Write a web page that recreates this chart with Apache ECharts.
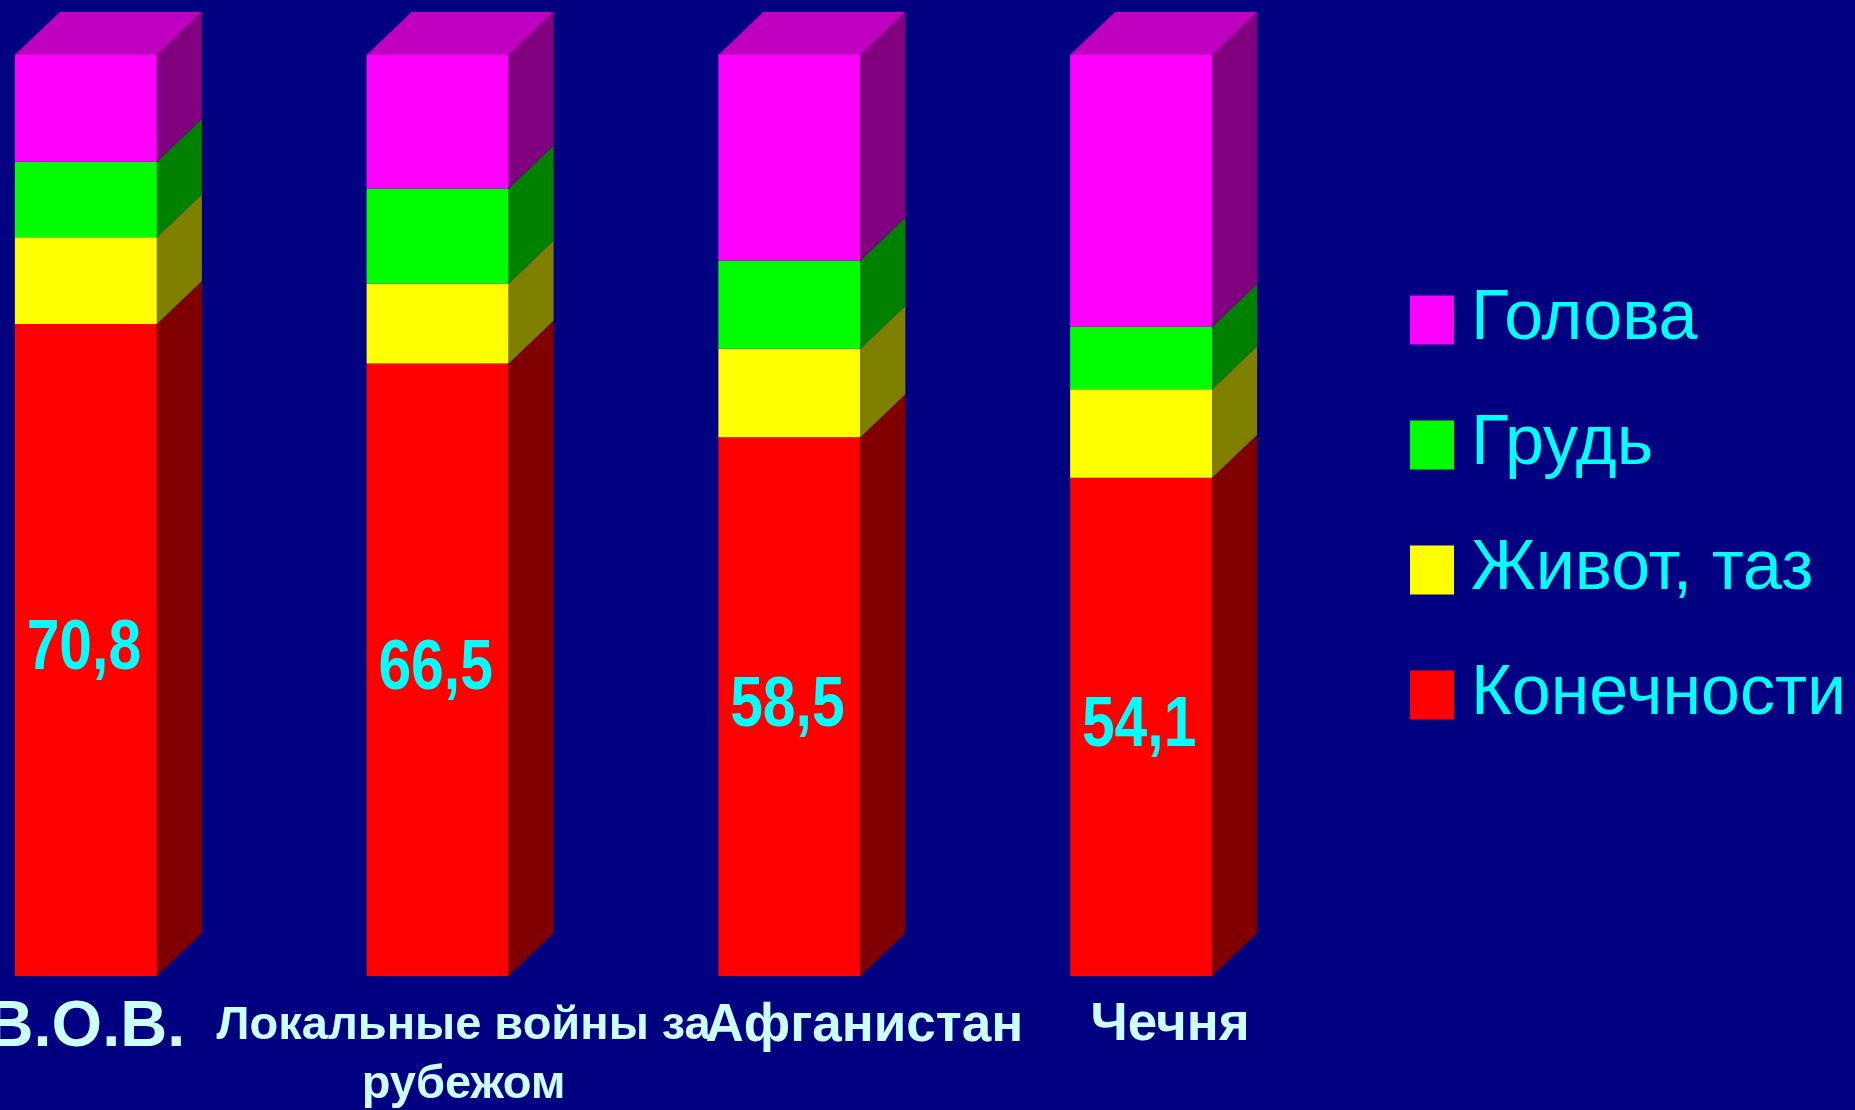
<!DOCTYPE html>
<html>
<head>
<meta charset="utf-8">
<script src="https://cdn.jsdelivr.net/npm/echarts@6/dist/echarts.min.js"></script>
<style>
  html, body { margin: 0; padding: 0; background: #000080; }
  #chart { width: 1855px; height: 1110px; }
</style>
</head>
<body>
<div id="chart"></div>
<script>
// ---- data ----
const categories = ['В.О.В.', 'Локальные войны за\nрубежом', 'Афганистан', 'Чечня'];
const limbs   = [70.8, 66.5, 58.5, 54.1];   // Конечности
const abdomen = [9.4, 8.7, 9.6, 9.6];       // Живот, таз
const chest   = [8.2, 10.3, 9.6, 6.8];      // Грудь
const head    = [11.6, 14.5, 22.3, 29.5];   // Голова
const seriesNames = ['Конечности', 'Живот, таз', 'Грудь', 'Голова'];
const legendOrder = ['Голова', 'Грудь', 'Живот, таз', 'Конечности'];

// ---- styles ----
const frontColors = ['#FF0000', '#FFFF00', '#00FF00', '#FF00FF'];
const sideColors  = ['#800000', '#808000', '#008000', '#800080'];
const topColor = '#C000C0';
const BW = 142, DX = 45, DY = 43;

const layers = [limbs, abdomen, chest, head];

const chart = echarts.init(document.getElementById('chart'), null, { renderer: 'canvas' });

const series = [];
layers.forEach((vals, li) => {
  series.push({
    name: seriesNames[li],
    type: 'bar',
    stack: 'total',
    barWidth: BW,
    data: vals,
    itemStyle: { color: frontColors[li] },
    label: { show: false },
    z: 2
  });
});

// 3D side and top faces (+ value labels on the bottom layer, condensed)
layers.forEach((vals, li) => {
  const data = vals.map((v, i) => {
    let start = 0;
    for (let k = 0; k < li; k++) start += layers[k][i];
    return [i, start, start + v, v];
  });
  const isTop = li === layers.length - 1;
  const isBottom = li === 0;
  series.push({
    name: 'face' + li,
    type: 'custom',
    data: data,
    z: 3,
    silent: true,
    renderItem: function (params, api) {
      const ptTop = api.coord([api.value(0), api.value(2)]);
      const ptBot = api.coord([api.value(0), api.value(1)]);
      const cx = ptTop[0], yt = ptTop[1], yb = ptBot[1];
      const xL = cx - BW / 2, xR = cx + BW / 2;
      const children = [{
        type: 'polygon',
        shape: { points: [[xR, yt], [xR + DX, yt - DY], [xR + DX, yb - DY], [xR, yb]] },
        style: { fill: sideColors[li] }
      }];
      if (isTop) {
        children.push({
          type: 'polygon',
          shape: { points: [[xL, yt], [xR, yt], [xR + DX, yt - DY], [xL + DX, yt - DY]] },
          style: { fill: topColor }
        });
      }
      if (isBottom) {
        children.push({
          type: 'text',
          x: cx - 2,
          y: (yt + yb) / 2,
          scaleX: 0.84,
          style: {
            text: String(api.value(3)).replace('.', ','),
            fill: '#00FFFF',
            font: 'bold 70px "Liberation Sans", Arial, sans-serif',
            align: 'center',
            verticalAlign: 'middle'
          }
        });
      }
      return { type: 'group', children: children };
    }
  });
});

const labelFont = '"Liberation Sans", Arial, sans-serif';
chart.setOption({
  backgroundColor: '#000080',
  animation: false,
  grid: { left: -90, top: 55, width: 1407, height: 921, outerBoundsMode: 'none', containLabel: false },
  xAxis: {
    type: 'category',
    data: categories,
    axisLine: { show: false },
    axisTick: { show: false },
    axisLabel: {
      interval: 0,
      margin: 21,
      hideOverlap: false,
      color: '#CCFFFF',
      fontWeight: 'bold',
      fontFamily: labelFont,
      formatter: function (v, i) {
        return v.split('\n').map(l => '{s' + i + '|' + l + '}').join('\n');
      },
      rich: {
        s0: { fontSize: 65, lineHeight: 63, fontWeight: 'bold', color: '#CCFFFF', fontFamily: labelFont },
        s1: { fontSize: 47, lineHeight: 59, fontWeight: 'bold', color: '#CCFFFF', fontFamily: labelFont, padding: [0, 0, 0, 52] },
        s2: { fontSize: 53, lineHeight: 53, fontWeight: 'bold', color: '#CCFFFF', fontFamily: labelFont, padding: [6, 0, 0, 150] },
        s3: { fontSize: 53, lineHeight: 53, fontWeight: 'bold', color: '#CCFFFF', fontFamily: labelFont, padding: [3, 0, 0, 58] }
      }
    }
  },
  yAxis: {
    type: 'value',
    min: 0,
    max: 100,
    show: false,
    splitLine: { show: false }
  },
  legend: {
    data: legendOrder,
    orient: 'vertical',
    left: 1405,
    top: 280,
    itemWidth: 44,
    itemHeight: 49,
    itemGap: 55,
    icon: 'rect',
    selectedMode: false,
    textStyle: {
      color: '#00FFFF',
      fontSize: 70,
      lineHeight: 70,
      fontFamily: labelFont,
      padding: [0, 0, 0, 12]
    }
  },
  series: series
});
</script>
</body>
</html>
